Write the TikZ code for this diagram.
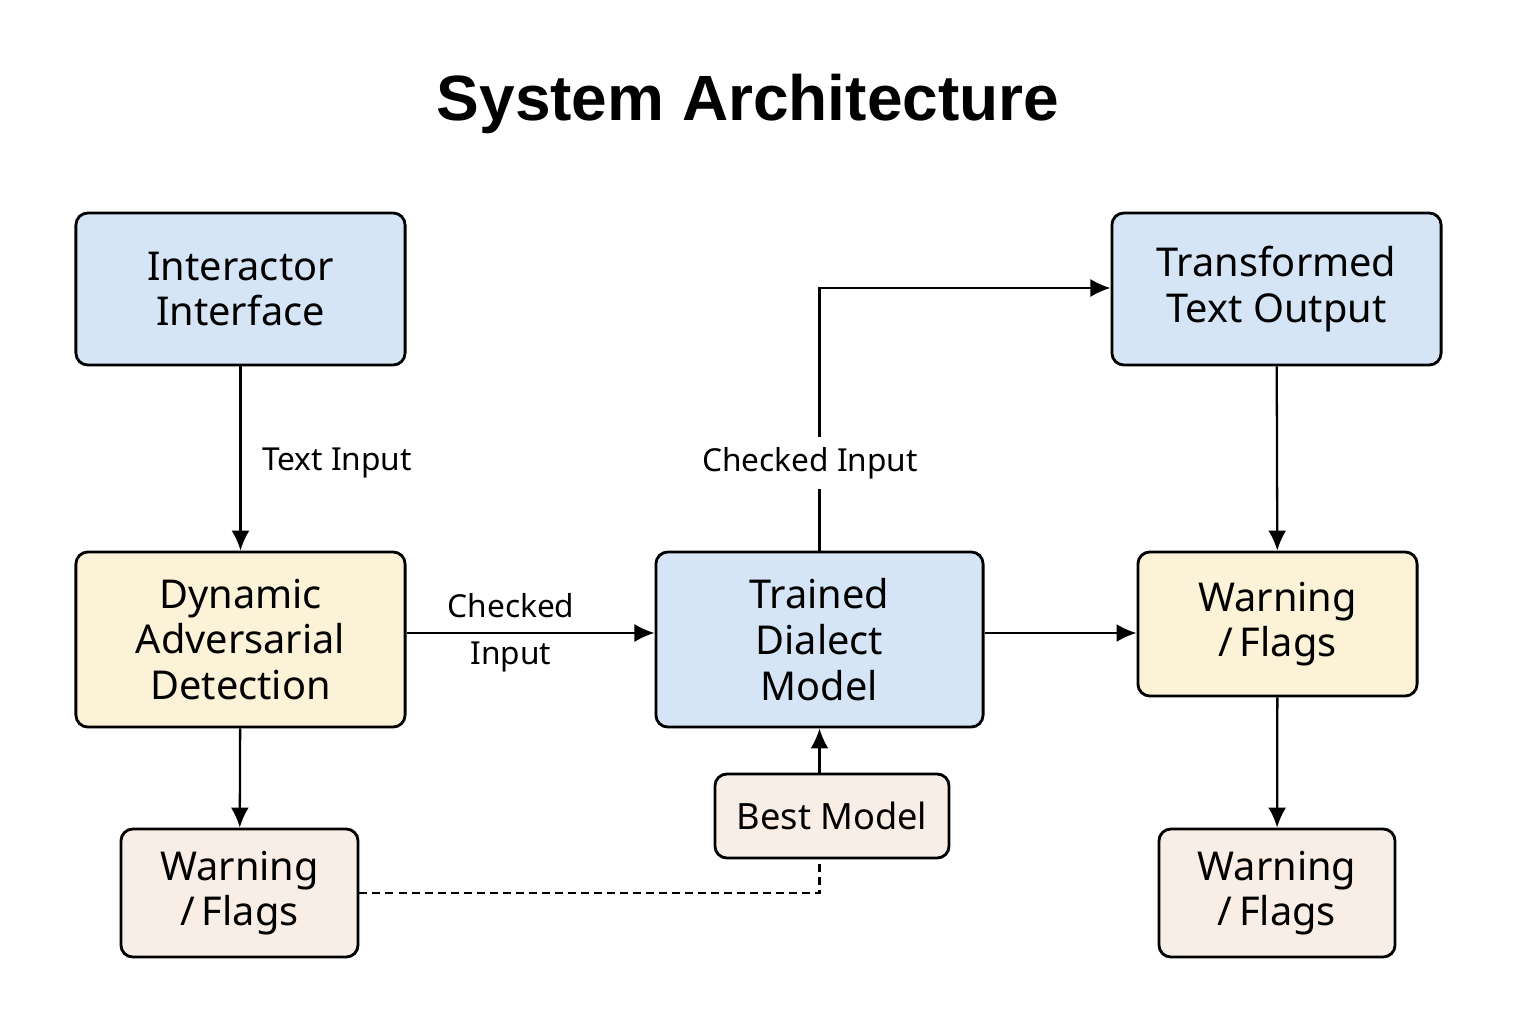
\documentclass[tikz,border=0pt]{standalone}
\usepackage{fontspec}
\setmainfont{Noto Sans}
\newfontfamily\titlefont{Liberation Sans}
\usetikzlibrary{arrows.meta}
\definecolor{boxblue}{HTML}{D6E5F5}
\definecolor{boxyellow}{HTML}{FCF2D8}
\definecolor{boxbeige}{HTML}{F8EEE5}
\tikzset{
x=0.01cm, y=-0.01cm,
>={Latex[length=2mm,width=1.8mm]}, % filled triangle tips
my box/.style={draw,line width=0.8pt,rounded corners=1.2mm,inner sep=0pt,align=center,
  font=\fontsize{11.3}{13}\selectfont},
blue box/.style={my box,fill=boxblue},
yellow box/.style={my box,fill=boxyellow},
beige box/.style={my box,fill=boxbeige},
my link/.style={line width=0.65pt},
my label/.style={font=\fontsize{9}{13.3}\selectfont,inner sep=1pt},
}
\begin{document}
\begin{tikzpicture}
\useasboundingbox (0,0) rectangle (1536,1024);
\node[font=\titlefont\bfseries\fontsize{18.2}{22}\selectfont] (title) at (748,104) {System Architecture};
% top row
\node[blue box,minimum width=3.29cm,minimum height=1.52cm] (ii) at (240.5,289) {Interactor\\Interface};
\node[blue box,minimum width=3.29cm,minimum height=1.52cm] (tto) at (1276.5,289) {Transformed\\Text Output};
% middle row
\node[yellow box,minimum width=3.29cm,minimum height=1.75cm] (dad) at (240.5,639.5) {Dynamic\\Adversarial\\Detection};
\node[blue box,minimum width=3.27cm,minimum height=1.75cm] (tdm) at (819.5,639.5) {Trained\\Dialect\\Model};
\node[yellow box,minimum width=2.79cm,minimum height=1.44cm] (wm) at (1277.5,624) {Warning\\/\,Flags};
% bottom row
\node[beige box,minimum width=2.37cm,minimum height=1.28cm] (wl) at (239.5,893) {Warning\\/\,Flags};
\node[beige box,minimum width=2.34cm,minimum height=0.84cm,font=\fontsize{10.3}{12}\selectfont] (bm) at (832,816) {Best Model};
\node[beige box,minimum width=2.36cm,minimum height=1.28cm] (wr) at (1277,893) {Warning\\/\,Flags};
% connectors
\path[->,my link]
  (ii) edge (dad)
  (dad.east |- 0,633) edge (tdm.west |- 0,633)
  (tdm.east |- 0,633) edge (wm.west |- 0,633)
  (tto) edge (wm)
  (wm) edge (wr)
  (dad) edge (wl)
  (tdm.south |- bm.north) edge (tdm.south);
\draw[->,my link] (tdm.north) |- (tto.west |- 0,288);
\draw[my link,dash pattern=on 0.8mm off 0.5mm] (wl.east) -| (tdm.south |- bm.south);
% labels
\node[my label,anchor=west] (l1) at (258,463) {Text Input};
\node[my label,align=center] (l2) at (511,633) {Checked\\Input};
\node[my label,fill=white,inner ysep=3pt] (l3) at (810,463) {Checked Input};
\end{tikzpicture}
\end{document}
